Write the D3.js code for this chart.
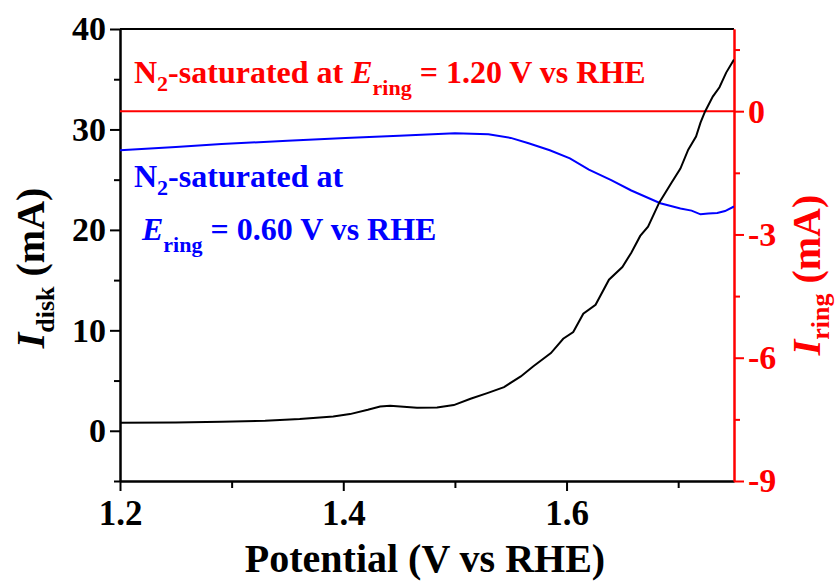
<!DOCTYPE html>
<html>
<head>
<meta charset="utf-8">
<script src="https://cdn.jsdelivr.net/npm/d3@7"></script>
<style>
  body { margin: 0; background: #fff; }
  svg { display: block; font-family: "Liberation Serif", "Times New Roman", serif; font-weight: bold; }
  .axis path, .axis line { stroke-width: 2px; }
</style>
</head>
<body>
<div id="chart"></div>
<script>
// ------------------------------------------------------------------
// Datos (potencial en V vs RHE, corrientes en mA)
// ------------------------------------------------------------------
var diskPotential = [1.200, 1.250, 1.291, 1.330, 1.361, 1.391, 1.406, 1.422, 1.433, 1.442, 1.457, 1.466,
  1.484, 1.499, 1.514, 1.529, 1.544, 1.559, 1.570, 1.586, 1.597, 1.606, 1.615, 1.626, 1.638, 1.650,
  1.658, 1.666, 1.673, 1.683, 1.694, 1.702, 1.709, 1.716, 1.720, 1.724, 1.731, 1.737, 1.743, 1.750];
var diskCurrent = [0.80, 0.82, 0.90, 1.00, 1.17, 1.42, 1.66, 2.09, 2.42, 2.49, 2.36, 2.29,
  2.32, 2.56, 3.19, 3.75, 4.35, 5.41, 6.40, 7.74, 9.16, 9.83, 11.65, 12.55, 15.04, 16.3,
  17.73, 19.4, 20.32, 22.71, 24.70, 26.1, 27.99, 29.3, 30.68, 31.77, 33.27, 34.2, 35.66, 36.95];

var ring060Potential = [1.200, 1.250, 1.291, 1.350, 1.402, 1.450, 1.500, 1.530, 1.550, 1.566, 1.585,
  1.603, 1.620, 1.640, 1.658, 1.684, 1.702, 1.712, 1.720, 1.727, 1.735, 1.742, 1.750];
var ring060Current = [-0.95, -0.87, -0.80, -0.72, -0.65, -0.60, -0.54, -0.56, -0.65, -0.78, -0.95,
  -1.15, -1.42, -1.68, -1.93, -2.24, -2.37, -2.42, -2.51, -2.49, -2.48, -2.43, -2.32];

var ring120Potential = [1.20, 1.30, 1.40, 1.50, 1.60, 1.70, 1.75];
var ring120Current = [0, 0, 0, 0, 0, 0, 0];

var xTicks = [1.2, 1.4, 1.6], xMinor = [1.3, 1.5, 1.7];
var yLeftTicks = [0, 10, 20, 30, 40], yLeftMinor = [-5, 5, 15, 25, 35];
var yRightTicks = [-9, -6, -3, 0], yRightMinor = [-7.5, -4.5, -1.5, 1.5];

// Dimensiones
var W = 840, H = 582;
var margin = {top: 29, right: 106, bottom: 101, left: 120},
    width = W - margin.left - margin.right,
    height = H - margin.top - margin.bottom;

var x = d3.scaleLinear().domain([1.2, 1.75]).range([0, width]);
var yL = d3.scaleLinear().domain([-5, 40]).range([height, 0]);
var yR = d3.scaleLinear().domain([-9, 2]).range([height, 0]);

var serif = "'Liberation Serif', 'Times New Roman', serif";

var svg = d3.select("#chart").append("svg")
    .attr("width", W)
    .attr("height", H);

var vis = svg.append("g")
    .attr("transform", "translate(" + margin.left + "," + margin.top + ")");

vis.append("clipPath").attr("id", "clip")
  .append("rect").attr("width", width).attr("height", height);

// caja superior
vis.append("line")
    .attr("x1", 0).attr("x2", width).attr("y1", 0).attr("y2", 0)
    .attr("stroke", "#000").attr("stroke-width", 2);

// estilo de etiquetas (quitamos el sans-serif que pone d3.axis)
function labels(color, size) {
  return function(g) {
    g.attr("font-family", null).attr("font-size", null);
    g.selectAll("text")
      .attr("fill", color)
      .style("font-family", serif)
      .style("font-weight", "bold")
      .style("font-size", size + "px");
  };
}

// ejes X
vis.append("g")
    .attr("class", "axis")
    .attr("transform", "translate(0," + height + ")")
    .call(d3.axisBottom(x).tickValues(xMinor).tickSize(7).tickSizeOuter(0).tickFormat(""));
vis.append("g")
    .attr("class", "axis")
    .attr("transform", "translate(0," + height + ")")
    .call(d3.axisBottom(x).tickValues(xTicks).tickSize(10).tickSizeOuter(0).tickPadding(9)
      .tickFormat(d3.format(".1f")))
    .call(labels("#000", 35));

// eje Y izquierdo
vis.append("g")
    .attr("class", "axis")
    .call(d3.axisLeft(yL).tickValues(yLeftMinor).tickSize(6).tickSizeOuter(0).tickFormat(""));
vis.append("g")
    .attr("class", "axis")
    .call(d3.axisLeft(yL).tickValues(yLeftTicks).tickSize(10).tickSizeOuter(0).tickPadding(4))
    .call(labels("#000", 34));

// eje Y derecho (rojo)
var right = vis.append("g").attr("transform", "translate(" + width + ",0)");
right.append("g")
    .attr("class", "axis")
    .call(d3.axisRight(yR).tickValues(yRightMinor).tickSize(6).tickSizeOuter(0).tickFormat(""));
right.append("g")
    .attr("class", "axis")
    .call(d3.axisRight(yR).tickValues(yRightTicks).tickSize(10).tickSizeOuter(0).tickPadding(4)
      .tickFormat(function(d) { return String(d); }))
    .call(labels("red", 34));
right.selectAll("path, line").attr("stroke", "red");

// lineas
var diskLine = d3.line()
    .x(function(d) { return x(d[0]); })
    .y(function(d) { return yL(d[1]); });
var ringLine = d3.line()
    .x(function(d) { return x(d[0]); })
    .y(function(d) { return yR(d[1]); });

var plot = vis.append("g").attr("clip-path", "url(#clip)");

plot.append("path")
    .attr("d", ringLine(d3.zip(ring120Potential, ring120Current)))
    .attr("fill", "none").attr("stroke", "red").attr("stroke-width", 2);
plot.append("path")
    .attr("d", ringLine(d3.zip(ring060Potential, ring060Current)))
    .attr("fill", "none").attr("stroke", "#0000ff").attr("stroke-width", 2);
plot.append("path")
    .attr("d", diskLine(d3.zip(diskPotential, diskCurrent)))
    .attr("fill", "none").attr("stroke", "#000").attr("stroke-width", 2);

// anotaciones
function subText(t, parts) {
  parts.forEach(function(p) {
    var s = t.append("tspan").text(p.t);
    if (p.it) s.style("font-style", "italic");
    if (p.sub) s.attr("dy", p.sub).style("font-size", p.size);
    if (p.up) s.attr("dy", p.up);
  });
}

var red = svg.append("text").attr("x", 134).attr("y", 83)
    .attr("fill", "red").style("font-size", "32px");
subText(red, [{t: "N"}, {t: "2", sub: 8, size: "22px"}, {t: "-saturated at ", up: -8},
  {t: "E", it: true}, {t: "ring", sub: 12, size: "22px"}, {t: " = 1.20 V vs RHE", up: -12}]);

var blue1 = svg.append("text").attr("x", 134).attr("y", 187)
    .attr("fill", "#0000ff").style("font-size", "32px");
subText(blue1, [{t: "N"}, {t: "2", sub: 8, size: "22px"}, {t: "-saturated at", up: -8}]);

var blue2 = svg.append("text").attr("x", 142).attr("y", 240)
    .attr("fill", "#0000ff").style("font-size", "32px");
subText(blue2, [{t: "E", it: true}, {t: "ring", sub: 12, size: "22px"}, {t: " = 0.60 V vs RHE", up: -12}]);

// titulos de ejes
svg.append("text")
    .attr("x", 425).attr("y", 572)
    .attr("text-anchor", "middle").style("font-size", "40px")
    .text("Potential (V vs RHE)");

var yt = svg.append("text")
    .attr("transform", "translate(44,268) rotate(-90)")
    .attr("text-anchor", "middle").style("font-size", "40px");
subText(yt, [{t: "I", it: true}, {t: "disk", sub: 10, size: "26px"}, {t: " (mA)", up: -10}]);

var yt2 = svg.append("text")
    .attr("transform", "translate(820,275) rotate(-90)")
    .attr("text-anchor", "middle").attr("fill", "red").style("font-size", "40px");
subText(yt2, [{t: "I", it: true}, {t: "ring", sub: 9, size: "26px"}, {t: " (mA)", up: -9}]);
</script>
</body>
</html>
